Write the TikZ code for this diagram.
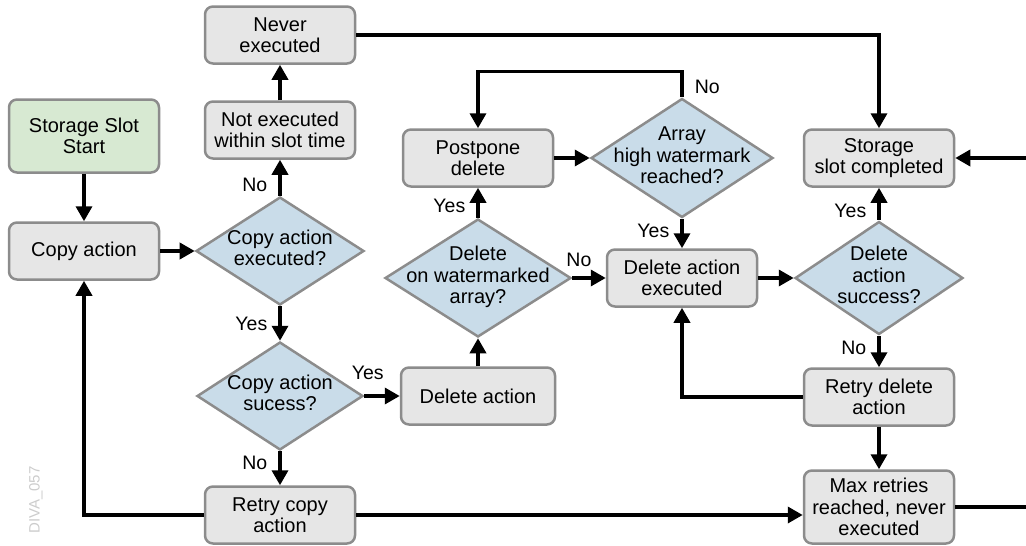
\documentclass[tikz,border=0pt]{standalone}
\usepackage{fontspec}
\setmainfont{Liberation Sans}
\usetikzlibrary{shapes.geometric,arrows.meta}
\definecolor{boxline}{HTML}{8C8C8C}
\definecolor{boxfill}{HTML}{E6E6E6}
\definecolor{startfill}{HTML}{D7E9D2}
\definecolor{queryfill}{HTML}{C9DCE9}
\newcommand{\flowfont}[0]{\fontsize{20}{21.5}\selectfont}
\newcommand{\question}[1]{\smash{\raisebox{-5pt}{\makebox[0pt]{\begin{tabular}{@{}c@{}}#1\end{tabular}}}}}

\begin{document}
\begin{tikzpicture}[x=1pt, y=-1pt, line width=3.5pt, >={Triangle[length=15pt,width=16pt]}]
  \tikzset{box/.style={draw=boxline, fill=boxfill, line width=2.5pt, rounded corners=8pt,
      minimum width=150pt, minimum height=57pt, inner sep=1pt, align=center, font=\flowfont},
    start/.style={box, fill=startfill, minimum height=73pt},
    query/.style={diamond, draw=boxline, fill=queryfill, line width=2.5pt, inner sep=0pt,
      minimum width=168pt, minimum height=110pt, font=\flowfont},
    lbl/.style={font=\fontsize{19.5}{20}\selectfont, inner ysep=5pt, inner xsep=11pt}}
  \useasboundingbox (0,0) rectangle (1026,546);
  \node[start] (START) at (84,136) {Storage Slot\\Start};
  \node[box] (CA) at (84,251) {Copy action};
  \node[query, minimum height=108pt] (Q-1) at (280,251) {\question{Copy action\\executed?}};
  \node[box] (NE-1) at (280,130) {Not executed\\within slot time};
  \node[box] (NE-2) at (280,35) {Never\\executed};
  \node[query, minimum width=166pt, minimum height=108pt] (Q-2) at (280,396) {\question{Copy action\\sucess?}};
  \node[box] (RC) at (280,515) {Retry copy\\action};
  \node[box, minimum width=154pt] (DA) at (478,396) {Delete action};
  \node[query, minimum width=186pt, minimum height=118pt] (Q-3) at (478,278) {\question{Delete\\on watermarked\\array?}};
  \node[box] (PD) at (478,158) {Postpone\\delete};
  \node[query, minimum width=182pt, minimum height=119pt] (Q-4) at (682,158) {\question{Array\\high watermark\\reached?}};
  \node[box] (DE) at (682,278) {Delete action\\executed};
  \node[query, minimum height=113pt] (Q-5) at (879,278) {\question{Delete\\action\\success?}};
  \node[box] (SC) at (879,158) {Storage\\slot completed};
  \node[box] (RD) at (879,397) {Retry delete\\action};
  \node[box, minimum height=73pt] (MR) at (879,507) {Max retries\\reached, never\\executed};
  \node[rotate=90, text=black!20, font=\fontsize{15}{15}\selectfont] (TAG) at (36,500) {DIVA\_057};
  \coordinate (EDGE) at (1026,0);
  \draw[->] (START) -- (CA);
  \draw[->] (CA) -- (Q-1);
  \draw[->] (Q-1) -- node[lbl, left, pos=0.3] (L-1) {No} (NE-1);
  \draw[->] (NE-1) -- (NE-2);
  \draw[->] (NE-2) -| (SC);
  \draw[->] (Q-1) -- node[lbl, left] (L-2) {Yes} (Q-2);
  \draw[->] (Q-2) -- node[lbl, above, pos=0.1, yshift=10pt] (L-3) {Yes} (DA);
  \draw[->] (Q-2) -- node[lbl, left, pos=0.35] (L-4) {No} (RC);
  \draw[->] (RC) -| (CA);
  \draw[->] (RC) -- (RC -| MR.west);
  \draw[->] (DA) -- (Q-3);
  \draw[->] (Q-3) -- node[lbl, left, pos=0.4] (L-5) {Yes} (PD);
  \draw[->] (Q-3) -- node[lbl, above, pos=0.2, yshift=5pt] (L-6) {No} (DE);
  \draw[->] (PD) -- (Q-4);
  \draw[->] (Q-4) -- node[lbl, left, pos=0.42] (L-7) {Yes} (DE);
  \draw[->] (Q-4.north) -- node[lbl, right, pos=0.4] (L-8) {No} ++(0,-26) -| (PD);
  \draw[->] (DE) -- (Q-5);
  \draw[->] (Q-5) -- node[lbl, left, pos=0.3] (L-9) {Yes} (SC);
  \draw[->] (Q-5) -- node[lbl, left, pos=0.37] (L-10) {No} (RD);
  \draw[->] (RD) -| (DE);
  \draw[->] (RD) -- (MR);
  \draw[->] (EDGE |- SC) -- (SC);
  \draw (MR) -- (MR -| EDGE);
\end{tikzpicture}
\end{document}
